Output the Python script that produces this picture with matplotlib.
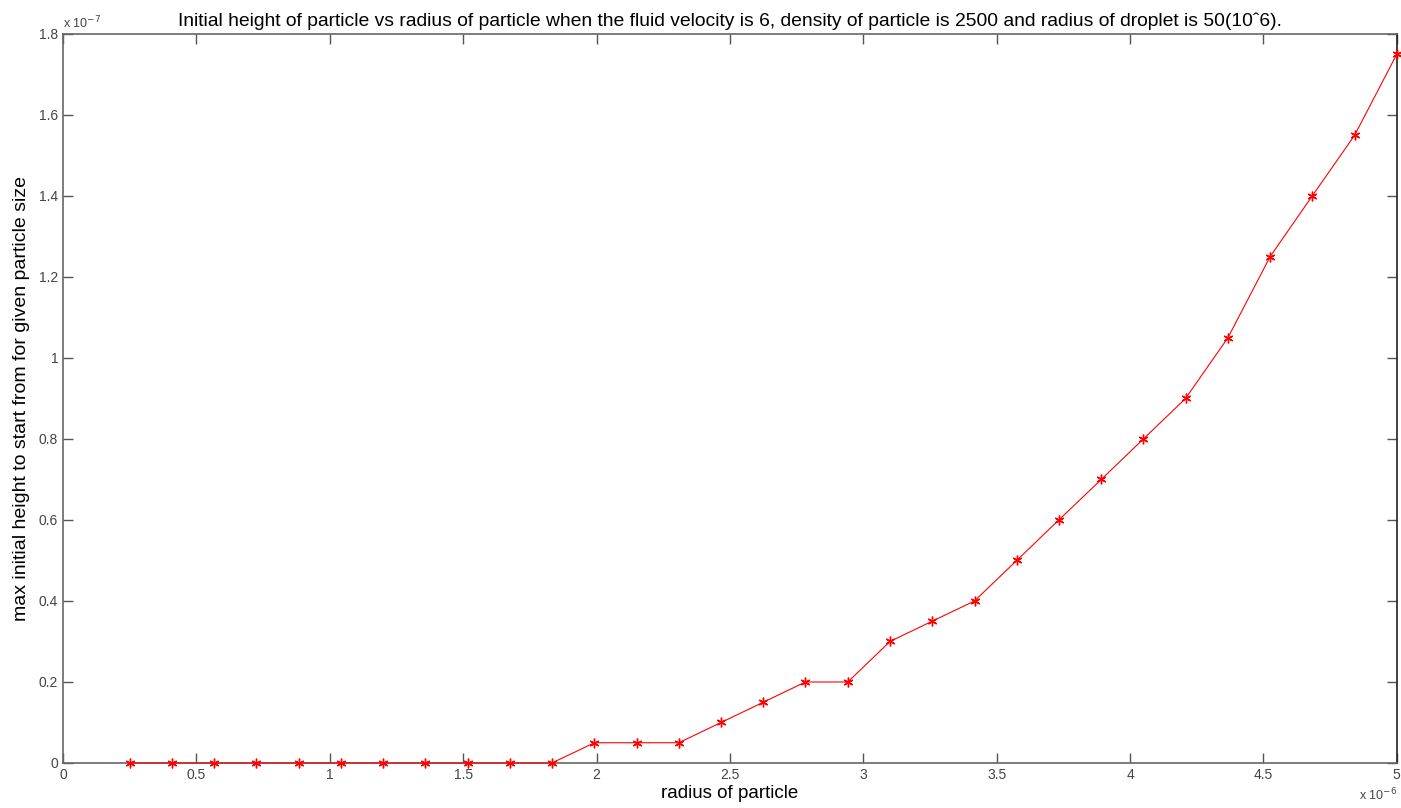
import matplotlib
matplotlib.use('Agg')
import matplotlib.pyplot as plt
from matplotlib.ticker import FuncFormatter

plt.rcParams['font.family'] = ['Liberation Sans', 'DejaVu Sans']

# radius of particle (x 1e-6) and max initial height (x 1e-7)
radius = [0.25, 0.408, 0.567, 0.725, 0.883, 1.042, 1.2, 1.358, 1.517, 1.675,
          1.833, 1.992, 2.15, 2.308, 2.467, 2.625, 2.783, 2.942, 3.1, 3.258,
          3.417, 3.575, 3.733, 3.892, 4.05, 4.208, 4.367, 4.525, 4.683, 4.842, 5.0]
height = [0, 0, 0, 0, 0, 0, 0, 0, 0, 0,
          0, 0.05, 0.05, 0.05, 0.1, 0.15, 0.2, 0.2, 0.3, 0.35,
          0.4, 0.5, 0.6, 0.7, 0.8, 0.9, 1.05, 1.25, 1.4, 1.55, 1.75]

xticks = [0, 0.5, 1, 1.5, 2, 2.5, 3, 3.5, 4, 4.5, 5]
yticks = [0, 0.2, 0.4, 0.6, 0.8, 1, 1.2, 1.4, 1.6, 1.8]

fig = plt.figure(figsize=(14.01, 8.08), dpi=100)
ax = fig.add_axes([0.045, 0.0557, 0.952, 0.9023])

ax.plot(radius, height, color='red', linewidth=0.8, marker=(6, 2, 0),
        markersize=7, markeredgewidth=1.0, clip_on=False, zorder=3)

ax.set_xlim(0, 5)
ax.set_ylim(0, 1.8)
ax.set_xticks(xticks)
ax.set_yticks(yticks)
fmt = FuncFormatter(lambda v, p: '%g' % v)
ax.xaxis.set_major_formatter(fmt)
ax.yaxis.set_major_formatter(fmt)
ax.tick_params(direction='in', top=True, right=True, length=7, width=1,
               color='#555555', labelsize=10, labelcolor='#444444')
for s in ax.spines.values():
    s.set_color('#666666')
    s.set_linewidth(1.2)
ax.spines['right'].set_color('#222222')

ax.text(0.0, 1.003, r'x 10$^{-7}$', transform=ax.transAxes, fontsize=9,
        color='#444444', ha='left', va='bottom')
ax.text(1.0, -0.033, r'x 10$^{-6}$', transform=ax.transAxes, fontsize=9,
        color='#444444', ha='right', va='top')

ax.set_title('Initial height of particle vs radius of particle when the fluid velocity is 6, '
             'density of particle is 2500 and radius of droplet is 50(10\u02c66).',
             fontsize=13.9, pad=6)
ax.set_xlabel('radius of particle', fontsize=13.5, labelpad=2)
ax.set_ylabel('max initial height to start from for given particle size', fontsize=14,
              labelpad=6)

fig.savefig('out.png', dpi=100)
